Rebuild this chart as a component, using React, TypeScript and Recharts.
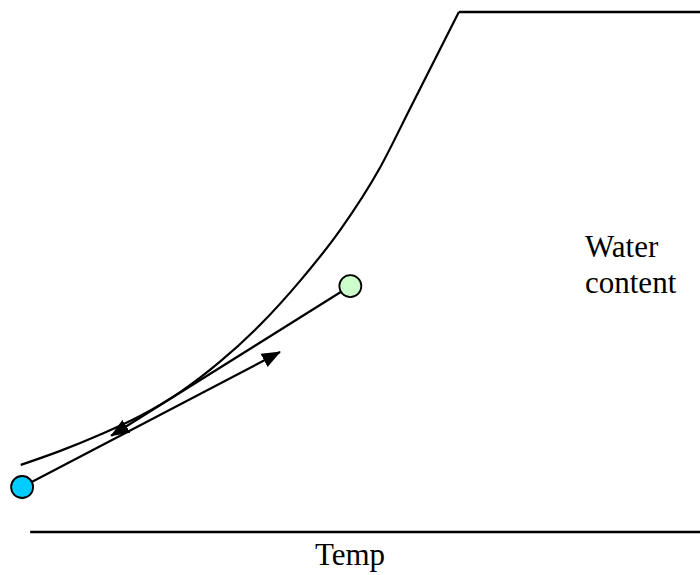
import { ComposedChart, Line, XAxis, YAxis, ReferenceLine } from 'recharts'

// equilibrium curve: water content vs temperature (arbitrary units)
const curveTemp = [-1.4, 4.5, 10.4, 16.4, 22.4, 28.3, 34.3, 40.3, 46.3, 52.2, 56.7, 64.0]
const curveWater = [12.9, 15.6, 18.7, 22.3, 26.9, 32.7, 39.8, 48.3, 58.1, 70.0, 81.4, 100]
const plateauTemp = [64.0, 100]
const plateauWater = [100, 100]
// heating path (blue start) and cooling path (green start)
const heatTemp = [-1.2, 37.3]
const heatWater = [8.65, 34.6]
const coolTemp = [47.8, 12.1]
const coolWater = [47.3, 18.5]
const axisStart = 0
const axisEnd = 100
const xLabel = 'Temp'
const yLabel = ['Water', 'content']

type Pt = { temp: number; water: number }
const toPoints = (xs: number[], ys: number[]): Pt[] => xs.map((t, i) => ({ temp: t, water: ys[i] }))

const curve = toPoints(curveTemp, curveWater)
const plateau = toPoints(plateauTemp, plateauWater)
const heat = toPoints(heatTemp, heatWater)
const cool = toPoints(coolTemp, coolWater)

const serif = "'Liberation Serif', 'Times New Roman', serif"

function startCircle(fill: string) {
  return (p: any) => {
    if (p.index !== 0) return <g key={`n-${p.index}`} />
    return <circle key={`c-${p.index}`} cx={p.cx} cy={p.cy} r={11} fill={fill} stroke="#000" strokeWidth={1.8} />
  }
}

export default function App() {
  return (
    <div style={{ position: 'absolute', left: 0, top: 0, width: 700, height: 575, background: '#fff' }}>
      <svg width={0} height={0} style={{ position: 'absolute' }}>
        <defs>
          <marker id="arrowHead" viewBox="0 0 19 15" refX={18} refY={7.5} markerWidth={19} markerHeight={15}
            markerUnits="userSpaceOnUse" orient="auto">
            <path d="M0,0 L19,7.5 L0,15 z" fill="#000" />
          </marker>
        </defs>
      </svg>
      <ComposedChart width={700} height={575} margin={{ top: 12, right: 0, bottom: 0, left: 0 }}>
        <XAxis type="number" dataKey="temp" domain={[-4.5, 100]} allowDataOverflow
          tick={false} tickLine={false} axisLine={false} height={43}
          label={{ value: xLabel, position: 'insideBottom', offset: 10, fill: '#000', fontSize: 31, fontFamily: serif }} />
        <YAxis type="number" dataKey="water" domain={[0, 100]} hide />
        <ReferenceLine segment={[{ x: axisStart, y: 0 }, { x: axisEnd, y: 0 }]} stroke="#000" strokeWidth={2.5} />
        <Line data={heat} dataKey="water" stroke="none" dot={startCircle('#00ccff')} isAnimationActive={false} />
        <Line data={cool} dataKey="water" stroke="none" dot={startCircle('#ccffcc')} isAnimationActive={false} />
        <Line data={curve} dataKey="water" type="monotone" stroke="#000" strokeWidth={2.2} dot={false} isAnimationActive={false} />
        <Line data={plateau} dataKey="water" type="linear" stroke="#000" strokeWidth={2.5} dot={false} isAnimationActive={false} />
        <Line data={heat} dataKey="water" type="linear" stroke="#000" strokeWidth={2.2} dot={false}
          markerEnd="url(#arrowHead)" isAnimationActive={false} />
        <Line data={cool} dataKey="water" type="linear" stroke="#000" strokeWidth={2.2} dot={false}
          markerEnd="url(#arrowHead)" isAnimationActive={false} />
      </ComposedChart>
      <div style={{ position: 'absolute', left: 585, top: 229, fontFamily: serif, fontSize: 31, lineHeight: '36px', color: '#000' }}>
        {yLabel[0]}
        <br />
        {yLabel[1]}
      </div>
    </div>
  )
}
